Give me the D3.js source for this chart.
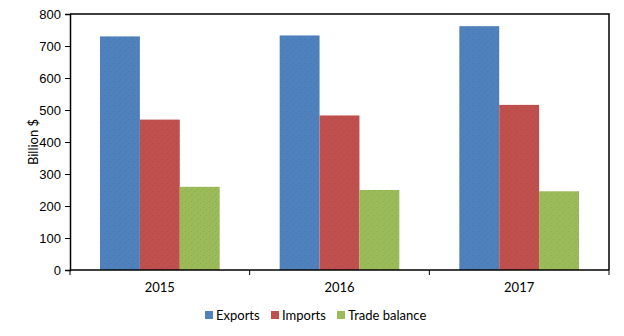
<!DOCTYPE html>
<html>
<head>
<meta charset="utf-8">
<script src="https://cdn.jsdelivr.net/npm/d3@7"></script>
<style>
  html, body { margin: 0; padding: 0; background: #fff; }
  svg { display: block; font-family: Lato, "Open Sans", sans-serif; }
</style>
</head>
<body>
<svg id="chart" width="624" height="336"></svg>
<script>
// Trade figures, billion dollars
const years = ["2015", "2016", "2017"];
const seriesNames = ["Exports", "Imports", "Trade balance"];
const exportsVals = [730, 733, 762];
const importsVals = [470, 483, 516];
const balanceVals = [260, 250, 246];
const yTicks = [0, 100, 200, 300, 400, 500, 600, 700, 800];
const colors = ["#4F81BD", "#C0504D", "#9BBB59"];

const table = years.map((y, i) => ({
  year: y,
  values: [exportsVals[i], importsVals[i], balanceVals[i]]
}));

const svg = d3.select("#chart");
const m = { left: 70, right: 15, top: 14, bottom: 66 };
const W = 624, H = 336;
const iw = W - m.left - m.right, ih = H - m.top - m.bottom;

const g = svg.append("g").attr("transform", `translate(${m.left},${m.top})`);

const x0 = d3.scaleBand().domain(years).range([0, iw]).paddingInner(0).paddingOuter(0);
const x1 = d3.scaleBand().domain(seriesNames).range([30, x0.bandwidth() - 30]);
const y = d3.scaleLinear().domain([0, 800]).range([ih, 0]);

// subtle stipple texture for the bar fills
const defs = svg.append("defs");
colors.forEach((c, i) => {
  const p = defs.append("pattern").attr("id", "tex" + i)
    .attr("width", 6).attr("height", 6).attr("patternUnits", "userSpaceOnUse");
  p.append("rect").attr("width", 6).attr("height", 6).attr("fill", c);
  const dark = d3.color(c).darker(0.5).formatHex();
  p.append("rect").attr("x", 1).attr("y", 1).attr("width", 1).attr("height", 1).attr("fill", dark).attr("opacity", 0.6);
  p.append("rect").attr("x", 4).attr("y", 3).attr("width", 1).attr("height", 1).attr("fill", dark).attr("opacity", 0.6);
  p.append("rect").attr("x", 2).attr("y", 5).attr("width", 1).attr("height", 1).attr("fill", dark).attr("opacity", 0.4);
});

// bars
const grp = g.selectAll(".grp").data(table).join("g")
  .attr("transform", d => `translate(${x0(d.year)},0)`);
grp.selectAll("rect").data(d => d.values.map((v, i) => ({ v, i })))
  .join("rect")
  .attr("x", d => x1(seriesNames[d.i]))
  .attr("width", x1.bandwidth())
  .attr("y", d => y(d.v))
  .attr("height", d => ih - y(d.v))
  .attr("fill", d => `url(#tex${d.i})`);

// plot area frame (top and right)
g.append("path")
  .attr("d", `M0,0H${iw}V${ih}`)
  .attr("fill", "none").attr("stroke", "#000").attr("stroke-width", 1.5);

// y axis
const yAxis = g.append("g")
  .call(d3.axisLeft(y).tickValues(yTicks).tickSize(5).tickPadding(4));
yAxis.select(".domain").attr("stroke", "#000").attr("stroke-width", 1.5);
yAxis.selectAll(".tick line").attr("stroke", "#000");
yAxis.selectAll("text").attr("font-size", 13).attr("fill", "#000");

// x axis with ticks at category boundaries
const xAxis = g.append("g").attr("transform", `translate(0,${ih})`);
xAxis.append("line").attr("x1", 0).attr("x2", iw).attr("stroke", "#000").attr("stroke-width", 1.5);
const bounds = years.map(d => x0(d)).concat([iw]);
xAxis.selectAll(".bt").data(bounds).join("line")
  .attr("x1", d => d).attr("x2", d => d).attr("y1", 0).attr("y2", 5)
  .attr("stroke", "#000");
xAxis.selectAll(".lab").data(years).join("text")
  .attr("x", d => x0(d) + x0.bandwidth() / 2)
  .attr("y", 22)
  .attr("text-anchor", "middle").attr("font-size", 13).attr("fill", "#000")
  .text(d => d);

// y title
svg.append("text")
  .attr("transform", `translate(38,${m.top + ih / 2}) rotate(-90)`)
  .attr("text-anchor", "middle").attr("font-size", 13).attr("fill", "#000")
  .text("Billion $");

// legend
const legX = [205, 271, 337];
const leg = svg.selectAll(".leg").data(seriesNames).join("g")
  .attr("transform", (d, i) => `translate(${legX[i]},315)`);
leg.append("rect").attr("x", 0).attr("y", -4).attr("width", 8).attr("height", 8)
  .attr("fill", (d, i) => colors[i]);
leg.append("text").attr("x", 11).attr("y", 5).attr("font-size", 13).attr("fill", "#000")
  .text(d => d);
</script>
</body>
</html>
